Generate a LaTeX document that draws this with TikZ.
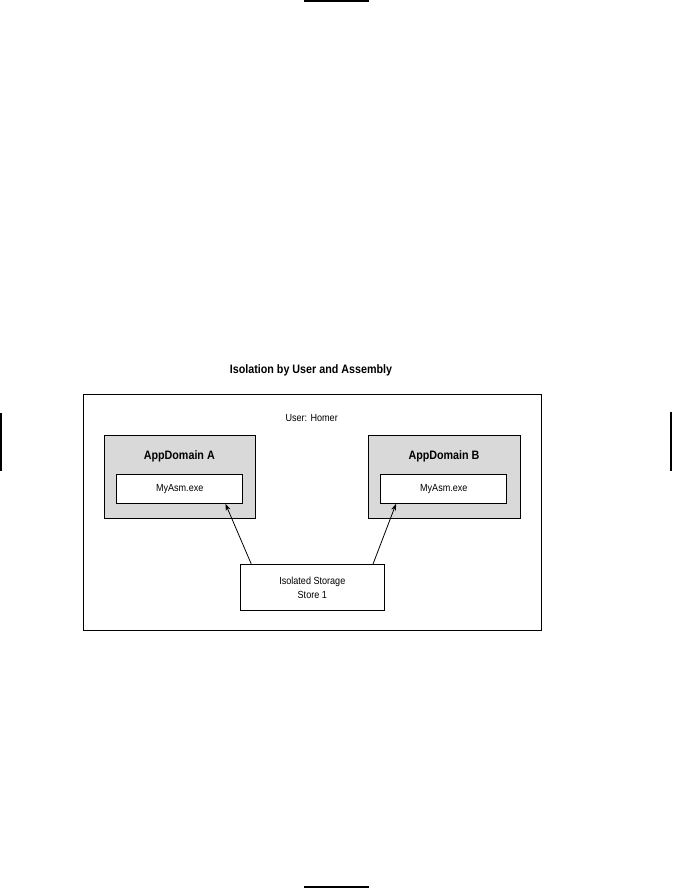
\documentclass[tikz,border=0pt]{standalone}
\usepackage{fontspec}
\setmainfont{Liberation Sans}[FakeStretch=0.88]
\usetikzlibrary{arrows.meta,calc}
\tikzset{
  box/.style={draw=black,line width=0.9pt,rectangle,inner sep=0pt},
  dombox/.style={box,fill=black!15,minimum width=151.7pt,minimum height=83.3pt},
  asmbox/.style={box,fill=white,minimum width=126pt,minimum height=29pt,font=\fontsize{10.3}{12}\selectfont},
  lbl/.style={inner sep=0pt,font=\fontsize{10.3}{14}\selectfont},
  blbl/.style={inner sep=0pt,font=\fontsize{12.2}{14}\selectfont\bfseries},
  arr/.style={draw=black,line width=0.8pt,-{Stealth[length=7pt,width=5pt]}},
  cropmark/.style={draw=black,line width=1.6pt}
}
\begin{document}
\begin{tikzpicture}[x=1pt,y=-1pt]
\useasboundingbox (0,0) rectangle (672,888);
% crop marks
\draw[cropmark] (304,0.8) -- (368.5,0.8);
\draw[cropmark] (304,887.2) -- (368.5,887.2);
\draw[cropmark] (0.8,412.7) -- (0.8,471);
\draw[cropmark] (671.2,411.7) -- (671.2,471);
% title
\node[blbl] (title) at (311,370.7) {Isolation by User and Assembly};
% outer user box
\node[box,minimum width=458pt,minimum height=236pt] (outer) at (312.5,512) {};
\node[lbl] (user) at (311.7,417.7) {User: Homer};
% AppDomain A
\node[dombox] (domA) at (179.9,476.7) {};
\node[blbl] (domAl) at (179.3,456.7) {AppDomain A};
\node[asmbox] (asmA) at (179.7,488.8) {MyAsm.exe};
% AppDomain B
\node[dombox] (domB) at (444.2,476.7) {};
\node[blbl] (domBl) at (444,456.7) {AppDomain B};
\node[asmbox] (asmB) at (443.8,488.8) {MyAsm.exe};
% store
\node[box,fill=white,minimum width=143.3pt,minimum height=46.4pt,align=center,font=\fontsize{10.3}{14}\selectfont] (store) at (312.3,587.5) {Isolated Storage\\Store 1};
% arrows
\draw[arr] ($(store.north west)+(11,0)$) -- ($(asmA.south east)+(-17.7,0)$);
\draw[arr] ($(store.north east)+(-11.3,0)$) -- ($(asmB.south west)+(15.7,0)$);
\end{tikzpicture}
\end{document}
